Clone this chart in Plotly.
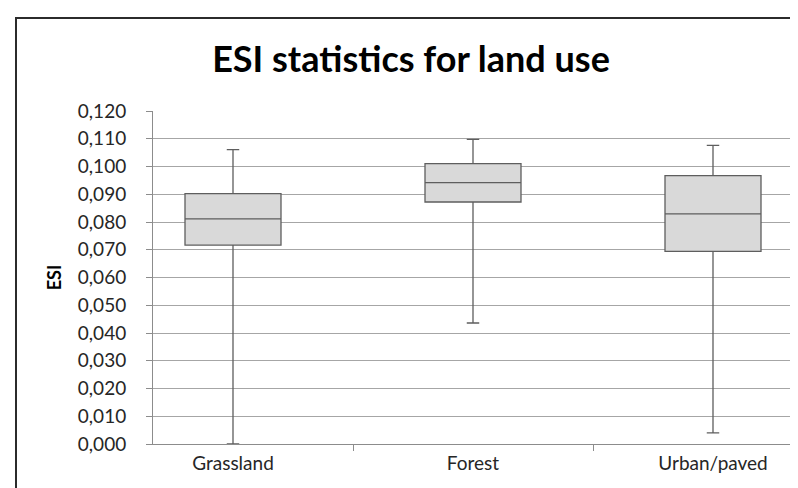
import plotly.graph_objects as go

categories = ["Grassland", "Forest", "Urban/paved"]
lower_whisker = [0.000, 0.0436, 0.0040]
q1_vals = [0.0717, 0.0872, 0.0694]
median_vals = [0.0811, 0.0942, 0.0829]
q3_vals = [0.0902, 0.1010, 0.0967]
upper_whisker = [0.1061, 0.1098, 0.1076]
y_ticks = [i / 1000 for i in range(0, 121, 10)]

W, H = 798, 488
L, R, T, B = 145, 13, 103, 52
pw, ph = W - L - R, H - T - B

fig = go.Figure()
fig.add_trace(go.Box(
    x=categories,
    q1=q1_vals, median=median_vals, q3=q3_vals,
    lowerfence=lower_whisker, upperfence=upper_whisker,
    fillcolor="#d9d9d9",
    line=dict(color="#5e5e5e", width=1.3),
    width=0.4, whiskerwidth=0.13,
    boxpoints=False, showlegend=False, hoverinfo="skip",
))

def px2paper_x(px):
    return (px - L) / pw

def px2paper_y(py):
    return 1 - (py - T) / ph

fig.add_shape(type="rect", xref="paper", yref="paper",
              x0=px2paper_x(8), x1=px2paper_x(801),
              y0=px2paper_y(495), y1=px2paper_y(10),
              line=dict(color="#2b2b2b", width=2), layer="below")

fig.update_layout(
    width=W, height=H,
    margin=dict(l=L, r=R, t=T, b=B),
    paper_bgcolor="white", plot_bgcolor="white",
    separators=",.",
    font=dict(family="Lato", size=19, color="#262626"),
    title=dict(text="<b>ESI statistics for land use</b>", x=403 / W, xanchor="center",
               y=1 - 51 / H, yanchor="middle",
               font=dict(family="Lato", size=36, color="#000000")),
    xaxis=dict(type="category", showgrid=False, showline=True, linecolor="#8c8c8c",
               linewidth=1, ticks="outside", ticklen=6, tickcolor="#8c8c8c",
               tickson="boundaries", ticklabelstandoff=2,
               tickfont=dict(size=19, family="Lato")),
    yaxis=dict(range=[0, 0.12], tickvals=y_ticks, tickformat=".3f",
               showgrid=True, gridcolor="#a6a6a6", gridwidth=1,
               showline=True, linecolor="#8c8c8c", linewidth=1,
               ticks="outside", ticklen=6, tickcolor="#8c8c8c",
               ticklabelstandoff=16,
               zeroline=False, tickfont=dict(size=19, family="Lato"),
               title=dict(text="<b>ESI</b>", font=dict(size=18, family="Lato", color="#000000"),
                          standoff=11)),
)

fig.write_html("out.html")
